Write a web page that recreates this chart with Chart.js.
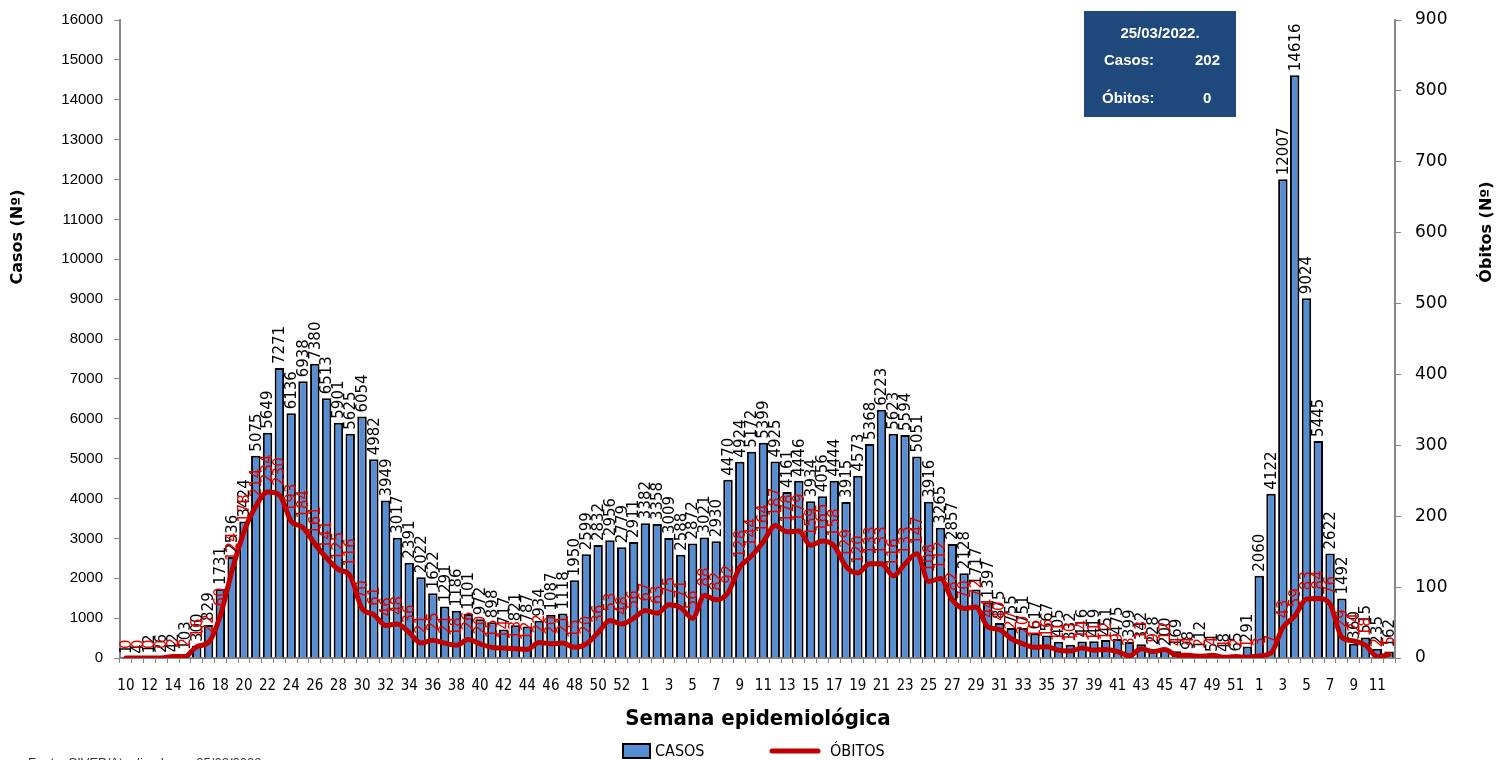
<!DOCTYPE html>
<html>
<head>
<meta charset="utf-8">
<script src="https://cdn.jsdelivr.net/npm/chart.js@4.4.1/dist/chart.umd.min.js"></script>
<style>
  html, body { margin: 0; padding: 0; background: #fff; }
  #wrap { width: 1497px; height: 760px; position: relative; }
</style>
</head>
<body>
<div id="wrap"><canvas id="chart"></canvas></div>
<script>
// semanas epidemiológicas: 2020 (10-53), 2021 (1-52), 2022 (1-12)
const weeks = [
  '10','11','12','13','14','15','16','17','18','19','20','21','22','23','24','25','26','27','28','29','30','31',
  '32','33','34','35','36','37','38','39','40','41','42','43','44','45','46','47','48','49','50','51','52','53',
  '1','2','3','4','5','6','7','8','9','10','11','12','13','14','15','16','17','18','19','20','21','22','23','24','25','26',
  '27','28','29','30','31','32','33','34','35','36','37','38','39','40','41','42','43','44','45','46','47','48','49','50','51','52',
  '1','2','3','4','5','6','7','8','9','10','11','12'
];

const casos = [
  1,4,12,26,42,103,300,829,1731,2536,3424,5075,5649,7271,6136,6938,7380,6513,5901,5625,6054,4982,
  3949,3017,2391,2022,1622,1291,1186,1101,972,898,717,821,787,934,1087,1118,1950,2599,2832,2956,2779,2911,
  3382,3358,3009,2588,2872,3021,2930,4470,4924,5172,5399,4925,4161,4446,3934,4056,4444,3915,4573,5368,6223,5623,
  5594,5051,3916,3265,2857,2128,1717,1397,875,755,751,617,567,405,332,416,419,451,475,399,342,228,200,169,98,112,
  51,48,65,291,
  2060,4122,12007,14616,9024,5445,2622,1492,360,515,235,162
];

const obitos = [
  0,0,0,0,2,2,16,22,60,124,178,214,234,230,193,184,161,141,125,116,70,61,
  46,48,36,21,25,21,18,26,20,15,14,13,12,22,20,21,15,20,36,53,48,56,
  67,63,75,71,56,88,82,92,128,144,164,187,178,179,159,165,158,129,120,133,133,116,
  133,147,108,112,82,70,72,44,40,27,20,15,16,11,10,14,11,12,9,3,13,9,12,4,4,2,
  4,1,2,1,
  3,7,43,59,83,84,76,29,24,18,2,5
];

const boxDate = '25/03/2022.';
const boxCasos = '202';
const boxObitos = '0';

const AXIS_GREY = '#868686';
const LABEL_FONT = '15px "DejaVu Sans", Verdana, sans-serif';

// rotated data labels for both series
const labelsPlugin = {
  id: 'vlabels',
  afterDatasetsDraw(chart) {
    const ctx = chart.ctx;
    ctx.save();
    ctx.font = LABEL_FONT;
    ctx.textAlign = 'left';
    ctx.textBaseline = 'middle';
    const bars = chart.getDatasetMeta(0).data;
    ctx.fillStyle = '#000';
    bars.forEach((b, i) => {
      ctx.save();
      ctx.translate(b.x + 1, b.y - 4);
      ctx.rotate(-Math.PI / 2);
      ctx.fillText(String(casos[i]), 0, 0);
      ctx.restore();
    });
    const pts = chart.getDatasetMeta(1).data;
    ctx.fillStyle = '#e00000';
    pts.forEach((p, i) => {
      ctx.save();
      ctx.translate(p.x + 1, p.y - 9);
      ctx.rotate(-Math.PI / 2);
      ctx.fillText(String(obitos[i]), 0, 0);
      ctx.restore();
    });
    ctx.restore();
  }
};

// titles, legend, info box, footnote
const decorPlugin = {
  id: 'decor',
  afterDraw(chart) {
    const ctx = chart.ctx;
    ctx.save();
    ctx.fillStyle = '#000';
    ctx.font = 'bold 16px "DejaVu Sans", Verdana, sans-serif';
    ctx.textAlign = 'center';
    ctx.textBaseline = 'middle';
    ctx.save(); ctx.translate(18, 237); ctx.rotate(-Math.PI / 2); ctx.fillText('Casos (Nº)', 0, 0); ctx.restore();
    ctx.save(); ctx.translate(1487, 232); ctx.rotate(-Math.PI / 2); ctx.fillText('Óbitos (Nº)', 0, 0); ctx.restore();

    ctx.font = 'bold 22px "Liberation Sans Narrow", "DejaVu Sans Condensed", sans-serif';
    ctx.fillText('Semana epidemiológica', 758, 719);

    // legend
    ctx.fillStyle = '#558ed5';
    ctx.fillRect(623, 744, 27, 14);
    ctx.strokeStyle = '#000';
    ctx.lineWidth = 2;
    ctx.strokeRect(623, 744, 27, 14);
    ctx.strokeStyle = '#c00000';
    ctx.lineWidth = 5;
    ctx.lineCap = 'round';
    ctx.beginPath(); ctx.moveTo(772, 751); ctx.lineTo(818, 751); ctx.stroke();
    ctx.fillStyle = '#000';
    ctx.font = '16px "Liberation Sans Narrow", "DejaVu Sans Condensed", sans-serif';
    ctx.textAlign = 'left';
    ctx.fillText('CASOS', 655, 752);
    ctx.fillText('ÓBITOS', 830, 752);

    // info box
    ctx.fillStyle = '#1f487c';
    ctx.fillRect(1084, 11, 152, 106);
    ctx.fillStyle = '#fff';
    ctx.font = 'bold 15px "Liberation Sans", Arial, sans-serif';
    ctx.textAlign = 'center';
    ctx.fillText(boxDate, 1160, 34);
    ctx.textAlign = 'left';
    ctx.fillText('Casos:', 1104, 61);
    ctx.fillText('Óbitos:', 1102, 99);
    ctx.fillText(boxCasos, 1195, 61);
    ctx.fillText(boxObitos, 1203, 99);

    // footnote (cut by the page edge)
    ctx.fillStyle = '#333';
    ctx.font = '13px "Liberation Sans", Arial, sans-serif';
    ctx.textBaseline = 'top';
    ctx.fillText('Fonte: SIVEP/Atualizado em 25/03/2022', 28, 757);
    ctx.restore();
  }
};

// keep vertical axes from pushing the plot area down
const fixPad = (s) => { s.paddingTop = 10; s.paddingBottom = 10; };

new Chart(document.getElementById('chart'), {
  data: {
    labels: weeks,
    datasets: [
      {
        type: 'bar', label: 'CASOS', data: casos, yAxisID: 'y', order: 2,
        backgroundColor: '#558ed5', borderColor: '#000', borderWidth: 2,
        barPercentage: 0.8, categoryPercentage: 1
      },
      {
        type: 'line', label: 'ÓBITOS', data: obitos, yAxisID: 'y1', order: 1,
        borderColor: '#c00000', borderWidth: 5, pointRadius: 0,
        cubicInterpolationMode: 'monotone', borderCapStyle: 'round', borderJoinStyle: 'round'
      }
    ]
  },
  options: {
    responsive: true,
    maintainAspectRatio: false,
    animation: false,
    layout: { padding: { top: 20, bottom: 0, left: 0, right: 0 } },
    plugins: { legend: { display: false }, tooltip: { enabled: false } },
    scales: {
      x: {
        grid: { display: true, drawOnChartArea: false, color: AXIS_GREY, tickLength: 5, offset: true },
        border: { color: AXIS_GREY, width: 2 },
        ticks: {
          autoSkip: false, maxRotation: 0, minRotation: 0, padding: 14, color: '#000',
          font: { family: '"Liberation Sans Narrow", "DejaVu Sans Condensed", sans-serif', size: 15 },
          callback: (v, i) => (i % 2 === 0 ? weeks[i] : '')
        },
        afterFit: (s) => { s.height = 102; }
      },
      y: {
        position: 'left', min: 0, max: 16000,
        grid: { drawOnChartArea: false, color: AXIS_GREY, tickLength: 6 },
        border: { color: AXIS_GREY, width: 2 },
        ticks: {
          stepSize: 1000, padding: 11, color: '#000',
          font: { family: '"Liberation Sans", Arial, sans-serif', size: 15 },
          callback: (v) => String(v)
        },
        afterFit: (s) => { s.width = 120; fixPad(s); }
      },
      y1: {
        position: 'right', min: 0, max: 900,
        grid: { drawOnChartArea: false, color: AXIS_GREY, tickLength: 6 },
        border: { color: AXIS_GREY, width: 2 },
        ticks: {
          stepSize: 100, padding: 14, color: '#000',
          font: { family: '"DejaVu Sans", Verdana, sans-serif', size: 17 },
          callback: (v) => String(v)
        },
        afterFit: (s) => { s.width = 102; fixPad(s); }
      }
    }
  },
  plugins: [labelsPlugin, decorPlugin]
});
</script>
</body>
</html>
